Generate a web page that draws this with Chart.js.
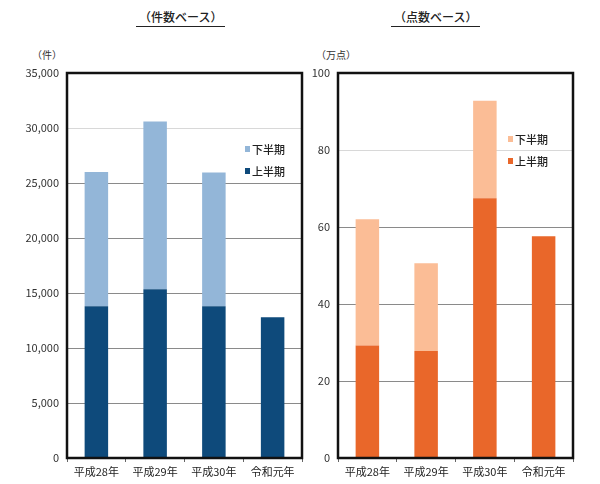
<!DOCTYPE html>
<html>
<head>
<meta charset="utf-8">
<script src="https://cdn.jsdelivr.net/npm/chart.js@4.4.1/dist/chart.umd.min.js"></script>
<style>
  html, body { margin: 0; padding: 0; background: #fff; }
  body { width: 600px; height: 484px; position: relative; overflow: hidden;
         font-family: "Noto Sans CJK JP", "Noto Sans", sans-serif; }
  .box { position: absolute; top: 0; height: 484px; }
  .title { position: absolute; top: 9px; font-size: 12px; color: #222; font-weight: 500;
           border-bottom: 1px solid #222; line-height: 16px; padding: 0 3px 1px 3px; white-space: nowrap; }
  .unit { position: absolute; top: 48px; font-size: 10px; line-height: 14px; color: #333; white-space: nowrap; }
</style>
</head>
<body>
<div class="title" id="t1" style="left:136px;">（件数ベース）</div>
<div class="title" id="t2" style="left:391px;">（点数ベース）</div>
<div class="unit" style="left:32px;">（件）</div>
<div class="unit" style="left:316px;">（万点）</div>
<div class="box" style="left:0px;width:310px;"><canvas id="c1" width="310" height="484"></canvas></div>
<div class="box" style="left:280px;width:320px;"><canvas id="c2" width="320" height="484"></canvas></div>
<script>
const categories = ['平成28年', '平成29年', '平成30年', '令和元年'];
const seriesNames = ['上半期', '下半期'];

// 件数ベース
const countFirstHalf = [13800, 15350, 13800, 12800];
const countSecondHalf = [12200, 15250, 12150, null];
const countTickLabels = ['0', '5,000', '10,000', '15,000', '20,000', '25,000', '30,000', '35,000'];

// 点数ベース（万点）
const pointFirstHalf = [29.2, 27.8, 67.5, 57.6];
const pointSecondHalf = [32.8, 22.8, 25.3, null];
const pointTickLabels = ['0', '20', '40', '60', '80', '100'];

const FONT = '"Noto Sans CJK JP", "Noto Sans", sans-serif';

const framePlugin = {
  id: 'frame',
  afterDatasetsDraw(chart) {
    const a = chart.chartArea, ctx = chart.ctx;
    ctx.save();
    ctx.strokeStyle = '#111';
    ctx.lineWidth = 2.5;
    ctx.strokeRect(a.left, a.top, a.right - a.left, a.bottom - a.top);
    ctx.restore();
  }
};

const innerLegend = {
  id: 'innerLegend',
  afterDraw(chart, args, opts) {
    const ctx = chart.ctx;
    const ds = chart.data.datasets;
    ctx.save();
    ctx.font = '500 11px ' + FONT;
    ctx.textBaseline = 'middle';
    ctx.textAlign = 'left';
    // top: 下半期, bottom: 上半期
    const order = [1, 0];
    order.forEach((di, i) => {
      const y = opts.y + i * opts.gap;
      ctx.fillStyle = ds[di].backgroundColor;
      ctx.fillRect(opts.x, y - 3, 5, 6);
      ctx.fillStyle = '#222';
      ctx.fillText(ds[di].label, opts.x + 7, y + 0.5);
    });
    ctx.restore();
  }
};

function makeChart(id, first, second, colors, maxV, step, tickLabels, axisW, padRight, lightVal, legendPos) {
  return new Chart(document.getElementById(id), {
    type: 'bar',
    data: {
      labels: categories,
      datasets: [
        { label: seriesNames[0], data: first, backgroundColor: colors[0], borderWidth: 0 },
        { label: seriesNames[1], data: second, backgroundColor: colors[1], borderWidth: 0 }
      ]
    },
    options: {
      responsive: false,
      animation: false,
      devicePixelRatio: 1,
      layout: { padding: { top: 73, right: padRight, bottom: 0, left: 0 } },
      datasets: { bar: { categoryPercentage: 0.8, barPercentage: 0.5 } },
      plugins: {
        legend: { display: false },
        tooltip: { enabled: false },
        innerLegend: legendPos
      },
      scales: {
        x: {
          stacked: true,
          border: { display: false },
          grid: { offset: true, drawOnChartArea: false, drawTicks: true, tickLength: 4, color: '#666' },
          ticks: { color: '#222', font: { family: FONT, size: 11 }, padding: 3, maxRotation: 0 },
          afterFit(s) { s.height = 26; }
        },
        y: {
          stacked: true,
          min: 0, max: maxV,
          border: { display: false },
          grid: {
            drawTicks: false,
            color(ctx) { return ctx.tick && ctx.tick.value === lightVal ? '#d8d8d8' : '#8a8a8a'; },
            lineWidth: 1
          },
          ticks: {
            stepSize: step,
            padding: 8,
            color: '#333',
            font: { family: FONT, size: 11 },
            callback(v, i) { return tickLabels[i]; }
          },
          afterFit(s) { s.width = axisW; }
        }
      }
    },
    plugins: [framePlugin, innerLegend]
  });
}

makeChart('c1', countFirstHalf, countSecondHalf, ['#0E4A7B', '#93B6D8'],
  35000, 5000, countTickLabels, 67, 8, 30000, { x: 245, y: 149, gap: 22 });
makeChart('c2', pointFirstHalf, pointSecondHalf, ['#E9672A', '#FBBD96'],
  100, 20, pointTickLabels, 58, 27, 80, { x: 228, y: 139, gap: 22 });
</script>
</body>
</html>
